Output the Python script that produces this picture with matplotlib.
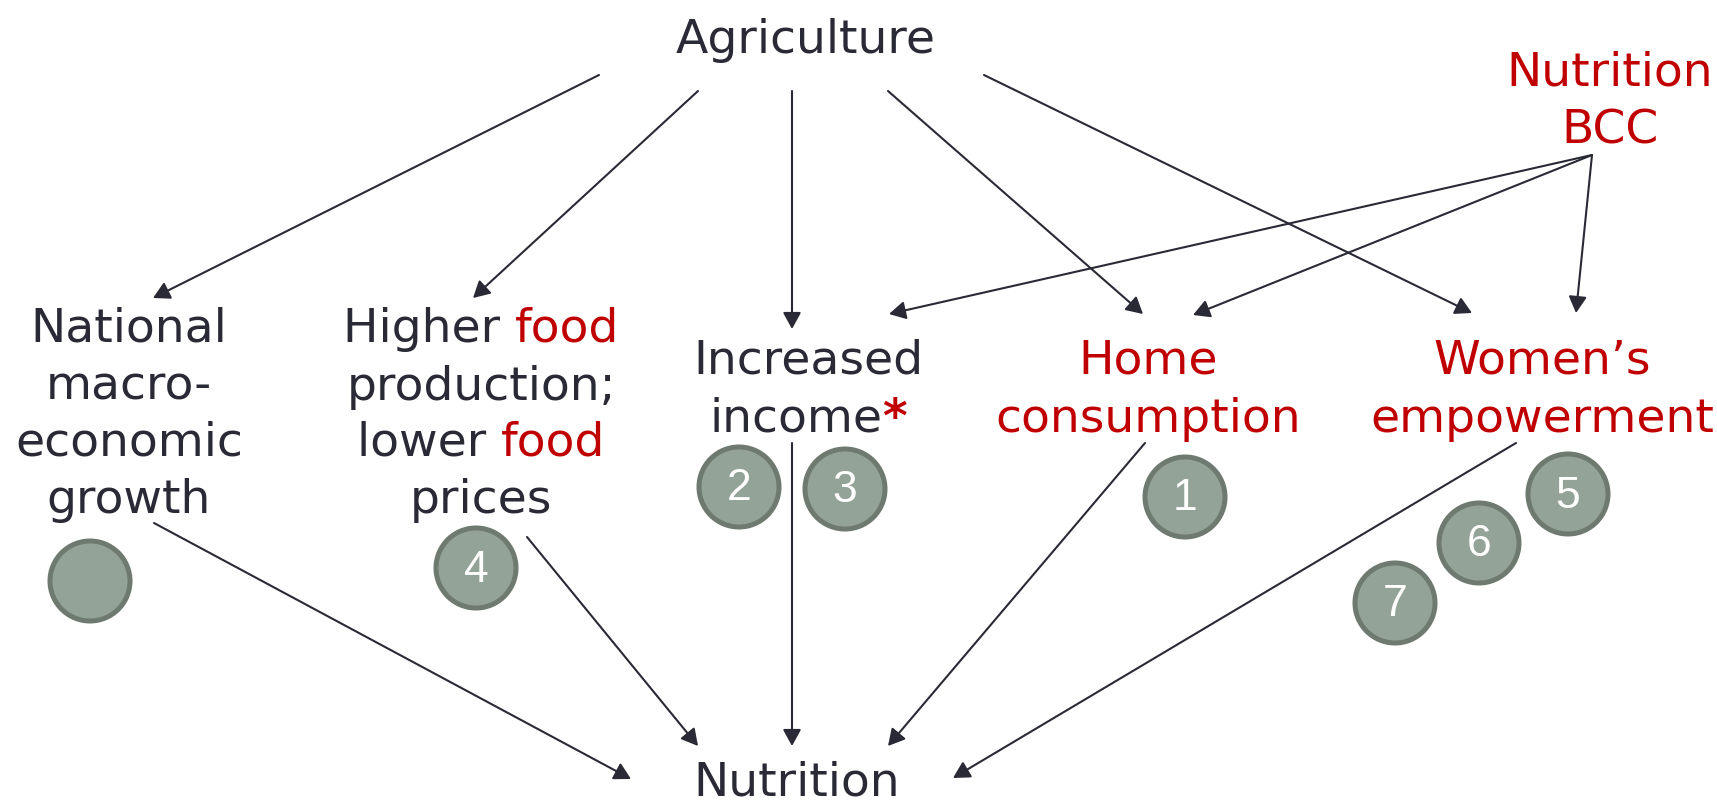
import matplotlib
matplotlib.use("Agg")
import matplotlib.pyplot as plt
from matplotlib.patches import FancyArrowPatch, Circle

DARK = "#2a2a37"
RED = "#c00000"
FILL = "#93a397"
EDGE = "#6e7a70"
FS = 34

# node labels: each line is a list of (text, colour) pieces
agri_label = [[("Agriculture", DARK)]]
bcc_label = [[("Nutrition", RED)], [("BCC", RED)]]
nutr_label = [[("Nutrition", DARK)]]
macro_label = [[("National", DARK)], [("macro-", DARK)], [("economic", DARK)], [("growth", DARK)]]
food_label = [[("Higher ", DARK), ("food", RED)], [("production;", DARK)],
              [("lower ", DARK), ("food", RED)], [("prices", DARK)]]
income_label = [[("Increased", DARK)], [("income", DARK), ("*", RED)]]
home_label = [[("Home", RED)], [("consumption", RED)]]
women_label = [[("Women\u2019s", RED)], [("empowerment", RED)]]

# study markers
marker_text = ["", "4", "2", "3", "1", "5", "6", "7"]
marker_x = [90, 476, 739, 845, 1185, 1568, 1479, 1395]
marker_y = [581, 568, 487, 489, 497, 494, 543, 603]

# arrows (start -> end), pixel coords
arrow_from = [(599, 75), (698, 91), (792, 91), (888, 91), (984, 75),
              (1592, 155), (1592, 155), (1592, 155),
              (154, 523), (527, 537), (792, 443), (1145, 443), (1516, 443)]
arrow_to = [(153, 298), (473, 298), (792, 329), (1143, 314), (1472, 313),
            (889, 314), (1193, 315), (1576, 313),
            (631, 779), (698, 746), (792, 746), (888, 746), (953, 778)]

fig = plt.figure(figsize=(17.17, 8.07), dpi=100)
ax = fig.add_axes([0, 0, 1, 1])
ax.set_xlim(0, 1717)
ax.set_ylim(807, 0)
ax.axis("off")
rend = fig.canvas.get_renderer()


def width(s, weight="normal"):
    t = ax.text(0, 0, s, fontsize=FS, fontweight=weight)
    w = t.get_window_extent(rend).width
    t.remove()
    return w


def draw_line(xc, yb, parts):
    # mixed colour line, centred on xc, baseline yb
    full = "".join(p[0] for p in parts)
    total = width(full)
    if parts[-1][0] == "*":
        total = width(full[:-1]) + width("*", "bold")
    x0 = xc - total / 2
    prefix = ""
    for s, c in parts:
        bold = "bold" if s == "*" else "normal"
        if prefix:
            off = width(prefix + s) - width(s) if s != "*" else width(prefix)
        else:
            off = 0
        ax.text(x0 + off, yb, s, fontsize=FS, color=c, fontweight=bold,
                ha="left", va="baseline")
        prefix += s


def draw_label(lines, xcs, ybs):
    for parts, xc, yb in zip(lines, xcs, ybs):
        draw_line(xc, yb, parts)


draw_label(agri_label, [806], [53])
draw_label(bcc_label, [1610, 1610], [86, 143])
draw_label(nutr_label, [797], [795])
draw_label(macro_label, [129] * 4, [342, 400, 456, 513])
draw_label(food_label, [481] * 4, [342, 400, 456, 513])
draw_label(income_label, [808, 808], [374, 432])
draw_label(home_label, [1148, 1148], [374, 432])
draw_label(women_label, [1542, 1542], [374, 432])

for a, b in zip(arrow_from, arrow_to):
    ax.add_patch(FancyArrowPatch(a, b, arrowstyle="-|>,head_length=10,head_width=5.5",
                                 mutation_scale=1, shrinkA=0, shrinkB=0,
                                 color=DARK, lw=1.5))

for t, x, y in zip(marker_text, marker_x, marker_y):
    ax.add_patch(Circle((x, y), 40, facecolor=FILL, edgecolor=EDGE, lw=3.6))
    ax.text(x, y + 2, t, fontsize=32, color="white", family="Liberation Sans",
            ha="center", va="center")

fig.savefig("out.png", dpi=100)
